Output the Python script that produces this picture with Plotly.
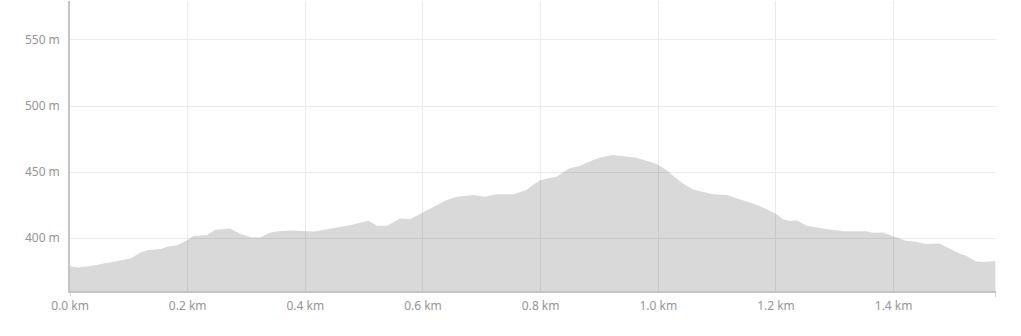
import plotly.graph_objects as go

distance_km = [0.000, 0.015, 0.040, 0.069, 0.103, 0.120, 0.131, 0.154, 0.165, 0.182,
               0.199, 0.210, 0.233, 0.247, 0.272, 0.289, 0.309, 0.323, 0.340, 0.357,
               0.380, 0.414, 0.448, 0.476, 0.507, 0.522, 0.539, 0.561, 0.578, 0.601,
               0.618, 0.640, 0.657, 0.686, 0.705, 0.725, 0.753, 0.776, 0.787, 0.799,
               0.815, 0.827, 0.848, 0.867, 0.884, 0.901, 0.923, 0.946, 0.963, 0.980,
               0.997, 1.014, 1.025, 1.042, 1.059, 1.093, 1.116, 1.138, 1.161, 1.184,
               1.201, 1.212, 1.223, 1.235, 1.252, 1.280, 1.314, 1.353, 1.365, 1.382,
               1.399, 1.421, 1.438, 1.455, 1.478, 1.489, 1.512, 1.523, 1.540, 1.552,
               1.573]
elevation_m = [378.8, 377.8, 379.3, 381.6, 384.6, 389.2, 390.9, 391.7, 393.4, 394.7,
               398.5, 401.7, 402.3, 406.3, 407.3, 403.3, 400.5, 400.5, 404.3, 405.5,
               405.8, 405.0, 407.8, 409.8, 413.1, 409.3, 409.3, 414.9, 414.4, 419.9,
               423.7, 428.8, 431.3, 432.6, 431.3, 433.3, 433.3, 436.4, 440.2, 443.9,
               445.5, 446.4, 452.8, 454.8, 458.3, 461.1, 462.9, 461.6, 460.8, 458.6,
               456.1, 451.5, 447.2, 441.4, 436.9, 433.3, 432.6, 429.5, 426.3, 422.0,
               418.0, 414.4, 412.9, 413.6, 409.3, 407.3, 405.3, 405.3, 404.0, 404.3,
               401.7, 398.0, 397.2, 395.5, 396.0, 393.4, 388.4, 386.6, 382.6, 382.0,
               382.8]

x_ticks = [0.0, 0.2, 0.4, 0.6, 0.8, 1.0, 1.2, 1.4]
x_labels = ["0.0 km", "0.2 km", "0.4 km", "0.6 km", "0.8 km", "1.0 km", "1.2 km", "1.4 km"]
y_ticks = [400, 450, 500, 550]
y_labels = ["400 m", "450 m", "500 m", "550 m"]
x_range = [0, 1.574]
y_range = [360, 579.5]

fig = go.Figure()
fig.add_trace(go.Scatter(
    x=distance_km, y=elevation_m, mode="lines", fill="tozeroy",
    line=dict(color="rgba(0,0,0,0)", width=0),
    fillcolor="rgba(0,0,0,0.15)", hoverinfo="skip", showlegend=False,
))

axis_col = "#c4c4c4"
font = dict(family="Noto Sans", size=12, color="#959595")

fig.update_layout(
    width=1021, height=336,
    margin=dict(l=70, r=25, t=1, b=45),
    paper_bgcolor="white", plot_bgcolor="white",
    font=font,
    xaxis=dict(range=x_range, tickmode="array", tickvals=x_ticks, ticktext=x_labels,
               showgrid=True, gridcolor="#ebebeb", gridwidth=1,
               showline=True, linecolor=axis_col, linewidth=1.5,
               zeroline=False, ticks="", ticklabelstandoff=3, fixedrange=True),
    yaxis=dict(range=y_range, tickmode="array", tickvals=y_ticks, ticktext=y_labels,
               showgrid=True, gridcolor="#ebebeb", gridwidth=1,
               showline=True, linecolor=axis_col, linewidth=1.5,
               zeroline=False, ticks="", ticklabelstandoff=6, fixedrange=True),
)

# outer ticks at domain ends
line = dict(color=axis_col, width=1.5)
fig.add_shape(type="line", xref="x", yref="paper", xsizemode="pixel", xanchor=x_range[0],
              x0=-6, x1=0, y0=1, y1=1, line=line)
fig.add_shape(type="line", xref="x", yref="paper", xsizemode="pixel", xanchor=x_range[0],
              x0=-6, x1=0, y0=0, y1=0, line=line)
fig.add_shape(type="line", xref="x", yref="paper", ysizemode="pixel", yanchor=0,
              x0=x_range[0], x1=x_range[0], y0=0, y1=-5, line=line)
fig.add_shape(type="line", xref="x", yref="paper", ysizemode="pixel", yanchor=0,
              x0=x_range[1], x1=x_range[1], y0=0, y1=-6, line=line)

fig.write_html("out.html")
